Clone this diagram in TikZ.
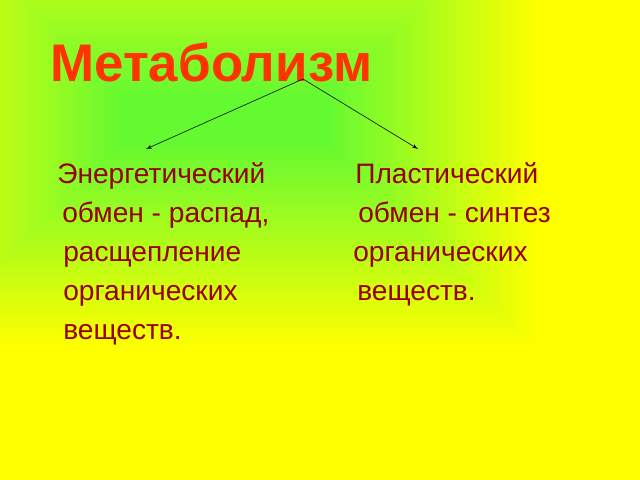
\documentclass[tikz,border=0pt]{standalone}
\usepackage{fontspec}
\setmainfont{Liberation Sans}
\usepackage{tikz}
\usetikzlibrary{positioning}
\usetikzlibrary{arrows}
\definecolor{gelb}{RGB}{255,255,0}
\definecolor{gruen}{RGB}{100,250,50}
\definecolor{titelrot}{RGB}{255,51,0}
\definecolor{textrot}{RGB}{153,0,0}
\tikzstyle{line} = [draw, -latex']

\begin{document}
\begin{tikzpicture}[x=0.025cm, y=-0.025cm]

	\tikzstyle{titel} = [text=titelrot, font=\fontsize{37.6}{40}\selectfont\bfseries, anchor=base west, inner sep=0pt]
	\tikzstyle{zeile} = [text=textrot, font=\fontsize{20}{22}\selectfont, anchor=base west, inner sep=0pt]

	% Hintergrund
	\useasboundingbox (0,0) rectangle (640,480);
	\fill [gelb] (0,0) rectangle (640,480);
	\foreach \i in {1,...,40} {
		\pgfmathsetmacro{\f}{2.5*\i}
		\fill [gruen!\f!gelb] ({-90+5.25*\i},{-110+5.125*\i}) rectangle ({540-5.25*\i},{350-5.125*\i});
	}

	% Place nodes
	\node [titel] (metabolizm) at (50,81) {Метаболизм};

	\node [zeile] (energ1) at (57,183) {Энергетический};
	\node [zeile] (energ2) at (62,222) {обмен - распад,};
	\node [zeile] (energ3) at (63,261) {расщепление};
	\node [zeile] (energ4) at (63,300) {органических};
	\node [zeile] (energ5) at (63,339) {веществ.};

	\node [zeile] (plast1) at (355,183) {Пластический};
	\node [zeile] (plast2) at (358,222) {обмен - синтез};
	\node [zeile] (plast3) at (353,261) {органических};
	\node [zeile] (plast4) at (357,300) {веществ.};

	\coordinate (razvilka) at (303,79);
	\coordinate (energ_kon) at (146,149);
	\coordinate (plast_kon) at (418,149);

	\path [line] (razvilka) -- (energ_kon);
	\path [line] (razvilka) -- (plast_kon);

\end{tikzpicture}
\end{document}
